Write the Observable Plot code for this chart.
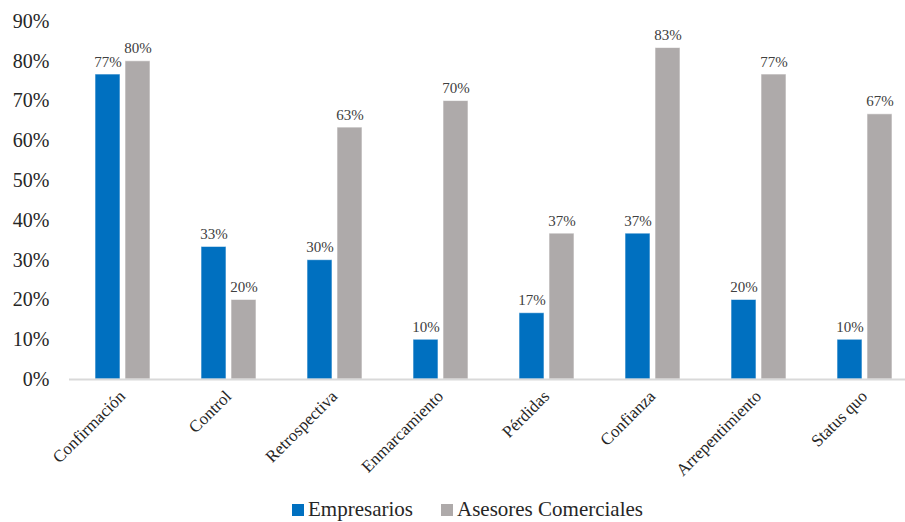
<!DOCTYPE html>
<html>
<head>
<meta charset="utf-8">
<script src="https://cdn.jsdelivr.net/npm/d3@7"></script>
<script src="https://cdn.jsdelivr.net/npm/@observablehq/plot@0.6"></script>
<style>
  html, body { margin: 0; padding: 0; background: #fff; }
  #chart { width: 905px; }
  .legend { display: flex; justify-content: center; align-items: center; gap: 28px; height: 42px;
    font-family: "Liberation Serif", "Times New Roman", serif; font-size: 21px; color: #262626; padding-left: 30px; padding-top: 17px; box-sizing: border-box; }
  .legend span.item { display: flex; align-items: center; }
  .legend span.sw { display: inline-block; width: 12px; height: 12px; margin-right: 4px; }
</style>
</head>
<body>
<div id="chart"></div>
<script>
const categories = ["Confirmación", "Control", "Retrospectiva", "Enmarcamiento", "Pérdidas", "Confianza", "Arrepentimiento", "Status quo"];
const series = ["Empresarios", "Asesores Comerciales"];
const empresarios = [0.7667, 0.3333, 0.30, 0.10, 0.1667, 0.3667, 0.20, 0.10];
const asesores = [0.80, 0.20, 0.6333, 0.70, 0.3667, 0.8333, 0.7667, 0.6667];
const colors = ["#0070C0", "#AEAAAA"];
const yTicks = [0, 0.1, 0.2, 0.3, 0.4, 0.5, 0.6, 0.7, 0.8, 0.9];

const data = [];
categories.forEach((c, i) => {
  data.push({cat: c, serie: series[0], value: empresarios[i]});
  data.push({cat: c, serie: series[1], value: asesores[i]});
});

const chart = Plot.plot({
  width: 905,
  height: 480,
  marginTop: 21,
  marginBottom: 101,
  marginLeft: 68,
  marginRight: -12,
  style: {fontFamily: "Liberation Serif, serif", fontSize: "15px", color: "#404040", background: "#fff"},
  fx: {domain: categories, paddingInner: 0, paddingOuter: 0, label: null},
  x: {domain: series, paddingInner: 0.18, paddingOuter: 0.8, axis: null},
  y: {domain: [0, 0.9], label: null},
  color: {domain: series, range: colors},
  marks: [
    Plot.barY(data, {fx: "cat", x: "serie", y: "value", fill: "serie", stroke: "#fff", strokeOpacity: 0.6, strokeWidth: 1}),
    Plot.ruleY([0], {stroke: "#D9D9D9", strokeWidth: 2}),
    Plot.text(data, {fx: "cat", x: "serie", y: "value", text: d => Math.round(d.value * 100) + "%", lineAnchor: "bottom", dy: -8, fontSize: 15, fill: "#404040"}),
    Plot.axisY({ticks: yTicks, tickFormat: d3.format(".0%"), tickSize: 0, tickPadding: 20, fontSize: 20, label: null, color: "#262626"}),
    Plot.axisFx({anchor: "bottom", tickRotate: -45, tickSize: 0, tickPadding: 14, fontSize: 17, label: null, color: "#262626"})
  ]
});
document.getElementById("chart").appendChild(chart);

const legend = document.createElement("div");
legend.className = "legend";
series.forEach((s, i) => {
  const item = document.createElement("span");
  item.className = "item";
  const sw = document.createElement("span");
  sw.className = "sw";
  sw.style.background = colors[i];
  item.appendChild(sw);
  item.appendChild(document.createTextNode(s));
  legend.appendChild(item);
});
document.getElementById("chart").appendChild(legend);
</script>
</body>
</html>
